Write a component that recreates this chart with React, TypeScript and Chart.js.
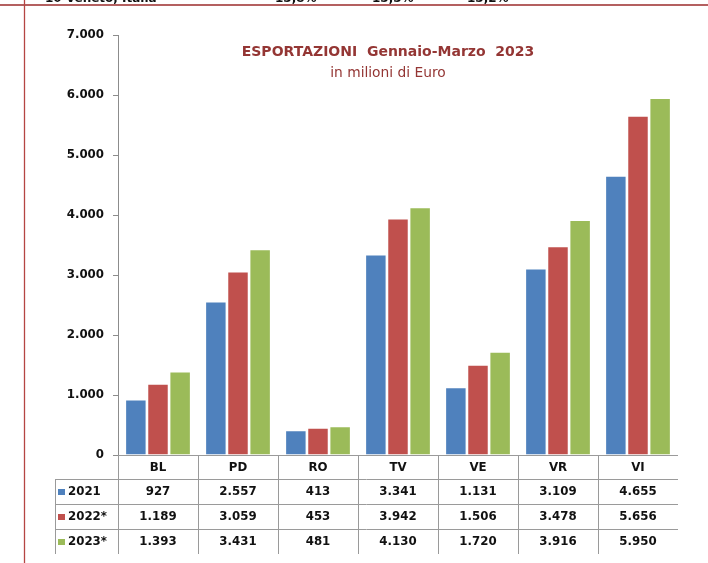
import React, { useEffect, useRef } from "react";
import { Chart, registerables } from "chart.js";

Chart.register(...registerables);

const categories = ["BL", "PD", "RO", "TV", "VE", "VR", "VI"];
const seriesLabels = ["2021", "2022*", "2023*"];
const values2021 = [927, 2557, 413, 3341, 1131, 3109, 4655];
const values2022 = [1189, 3059, 453, 3942, 1506, 3478, 5656];
const values2023 = [1393, 3431, 481, 4130, 1720, 3916, 5950];
const seriesColors = ["#4F81BD", "#C0504D", "#9BBB59"];
const titleText = "ESPORTAZIONI  Gennaio-Marzo  2023";
const subtitleText = "in milioni di Euro";
const topRowLabel = "10 Veneto, Italia";
const topRowValues = ["15,8%", "15,5%", "15,2%"];

const fmt = (v: number) => String(Math.round(v)).replace(/\B(?=(\d{3})+(?!\d))/g, ".");

const FONT = '"DejaVu Sans", Verdana, sans-serif';

const pagePlugin = {
  id: "pageDecor",
  beforeDraw(chart: any) {
    const ctx = chart.ctx as CanvasRenderingContext2D;
    ctx.save();
    ctx.fillStyle = "#ffffff";
    ctx.fillRect(0, 0, chart.width, chart.height);
    // cut-off text row at top
    ctx.fillStyle = "#111";
    ctx.font = `bold 12px ${FONT}`;
    ctx.textBaseline = "alphabetic";
    ctx.textAlign = "left";
    ctx.fillText(topRowLabel, 45, 2);
    const xs = [275, 372, 467];
    topRowValues.forEach((t, i) => ctx.fillText(t, xs[i], 2));
    // red page lines
    ctx.strokeStyle = "#9B2B2B";
    ctx.lineWidth = 1.6;
    ctx.beginPath();
    ctx.moveTo(0, 5);
    ctx.lineTo(chart.width, 5);
    ctx.stroke();
    ctx.strokeStyle = "#B54543";
    ctx.lineWidth = 1.3;
    ctx.beginPath();
    ctx.moveTo(24.5, 0);
    ctx.lineTo(24.5, chart.height);
    ctx.stroke();
    // title
    ctx.fillStyle = "#943634";
    ctx.textAlign = "center";
    ctx.textBaseline = "middle";
    ctx.font = `bold 14px ${FONT}`;
    const cx = 388;
    ctx.fillText(titleText, cx, 52);
    ctx.font = `13.8px ${FONT}`;
    ctx.fillText(subtitleText, cx, 73);
    ctx.restore();
  },
  afterDraw(chart: any) {
    const ctx = chart.ctx as CanvasRenderingContext2D;
    const { left, right, bottom } = chart.chartArea;
    const n = categories.length;
    const cw = (right - left) / n;
    const rowH = 25;
    const headerBottom = bottom + 24;
    const tableBottom = headerBottom + rowH * 3;
    const tableLeft = 55;
    ctx.save();
    ctx.strokeStyle = "#9a9a9a";
    ctx.lineWidth = 1;
    ctx.beginPath();
    ctx.moveTo(left, Math.round(bottom) + 0.5);
    ctx.lineTo(right, Math.round(bottom) + 0.5);
    for (let r = 0; r < 3; r++) {
      const y = Math.round(headerBottom + r * rowH) + 0.5;
      ctx.moveTo(tableLeft, y);
      ctx.lineTo(right, y);
    }
    for (let i = 0; i < n; i++) {
      const x = Math.round(left + i * cw) + 0.5;
      ctx.moveTo(x, bottom);
      ctx.lineTo(x, tableBottom);
    }
    ctx.moveTo(tableLeft + 0.5, headerBottom);
    ctx.lineTo(tableLeft + 0.5, tableBottom);
    ctx.stroke();

    ctx.fillStyle = "#111";
    ctx.font = `bold 11.8px ${FONT}`;
    ctx.textAlign = "center";
    ctx.textBaseline = "middle";
    categories.forEach((c, i) => {
      ctx.fillText(c, left + (i + 0.5) * cw, bottom + 13);
    });
    const all = [values2021, values2022, values2023];
    all.forEach((vals, r) => {
      const yc = headerBottom + r * rowH + rowH / 2 + 0.5;
      vals.forEach((v, i) => {
        ctx.fillStyle = "#111";
        ctx.textAlign = "center";
        ctx.fillText(fmt(v), left + (i + 0.5) * cw, yc);
      });
      ctx.fillStyle = seriesColors[r];
      ctx.fillRect(58, Math.round(yc - 3.5), 7, 6);
      ctx.fillStyle = "#111";
      ctx.textAlign = "left";
      ctx.fillText(seriesLabels[r], 68, yc);
    });
    ctx.restore();
  },
};

export default function App() {
  const ref = useRef<HTMLCanvasElement | null>(null);
  useEffect(() => {
    if (!ref.current) return;
    const chart = new Chart(ref.current, {
      type: "bar",
      data: {
        labels: categories,
        datasets: [values2021, values2022, values2023].map((d, i) => ({
          label: seriesLabels[i],
          data: d,
          backgroundColor: seriesColors[i],
          borderColor: "rgba(255,255,255,0.55)",
          borderWidth: { left: 1, right: 1, top: 1, bottom: 0 },
          categoryPercentage: 0.83,
          barPercentage: 0.97,
        })),
      },
      options: {
        responsive: false,
        animation: false,
        devicePixelRatio: 1,
        layout: { padding: { left: 0, right: 30, top: 35, bottom: 108 } },
        plugins: {
          legend: { display: false },
          title: { display: false },
          tooltip: { enabled: false },
        },
        scales: {
          x: { display: false },
          y: {
            min: 0,
            max: 7000,
            afterFit: (s: any) => {
              s.width = 118;
            },
            ticks: {
              stepSize: 1000,
              padding: 9,
              color: "#111",
              font: { family: FONT, size: 11.8, weight: "bold" },
              callback: (v: any) => fmt(Number(v)),
            },
            grid: {
              drawOnChartArea: false,
              drawTicks: true,
              tickLength: 5,
              color: "#8c8c8c",
            },
            border: { color: "#8c8c8c" },
          },
        },
      },
      plugins: [pagePlugin],
    });
    return () => chart.destroy();
  }, []);
  return (
    <div style={{ position: "absolute", left: 0, top: 0, width: 708, height: 563 }}>
      <canvas ref={ref} width={708} height={563} style={{ display: "block" }} />
    </div>
  );
}
